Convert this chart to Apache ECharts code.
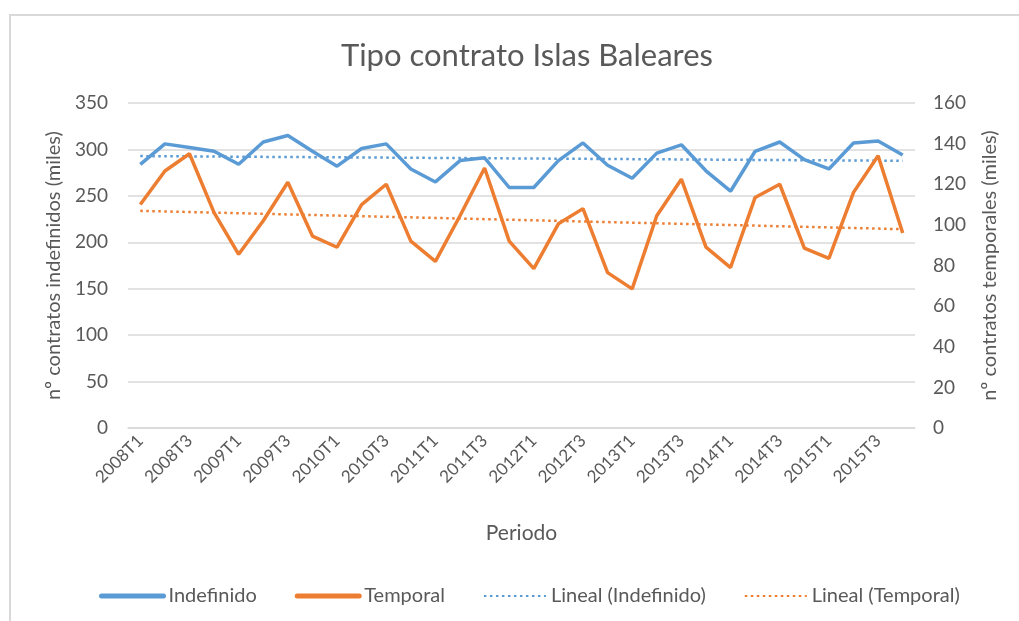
<!DOCTYPE html>
<html>
<head>
<meta charset="utf-8">
<script src="https://cdn.jsdelivr.net/npm/echarts@6/dist/echarts.min.js"></script>
<style>
  html, body { margin: 0; padding: 0; background: #fff; }
</style>
</head>
<body>
<div style="width:1019px;height:621px;" id="contratos_con"></div>
<script>
// trimestres
const periodos = [
    '2008T1','2008T2','2008T3','2008T4','2009T1','2009T2','2009T3','2009T4',
    '2010T1','2010T2','2010T3','2010T4','2011T1','2011T2','2011T3','2011T4',
    '2012T1','2012T2','2012T3','2012T4','2013T1','2013T2','2013T3','2013T4',
    '2014T1','2014T2','2014T3','2014T4','2015T1','2015T2','2015T3','2015T4'
];
// miles de contratos (eje izquierdo)
const indefinido = [
    284, 306, 302, 298, 284, 308, 315, 298,
    282, 301, 306, 279, 265, 288, 291, 259,
    259, 288, 307, 283, 269, 296, 305, 277,
    255, 298, 308, 289, 279, 307, 309, 294
];
// miles de contratos (eje derecho)
const temporal = [
    110, 126.5, 135, 106, 85.5, 102, 121, 94.5,
    89, 110, 120, 92, 82, 104.5, 128, 92,
    78.5, 100.5, 108, 76.5, 68.5, 104.5, 122.5, 89,
    79, 113.5, 120, 88.5, 83.5, 116, 134, 96
];
const ticksIzq = [0, 350, 50];
const ticksDer = [0, 160, 20];

// recta de regresion (linea de tendencia), como hace Excel
function lineal (vals) {
    let n = vals.length, sx = 0, sy = 0, sxx = 0, sxy = 0;
    vals.forEach((v, i) => { sx += i; sy += v; sxx += i * i; sxy += i * v; });
    let b = (n * sxy - sx * sy) / (n * sxx - sx * sx);
    let a = (sy - b * sx) / n;
    return vals.map((v, i) => +(a + b * i).toFixed(2));
}

const gris = '#595959';
const fuente = 'Lato, "Open Sans", sans-serif';
const azul = '#5B9BD5';
const naranja = '#ED7D31';

let chart = echarts.init(document.getElementById('contratos_con'));
const option = {
    backgroundColor: '#fff',
    animation: false,
    textStyle: { fontFamily: fuente, color: gris },
    title: {
        text: 'Tipo contrato Islas Baleares',
        left: 522,
        textAlign: 'center',
        top: 35,
        textStyle: { fontSize: 31, fontWeight: 'normal', color: gris, fontFamily: fuente }
    },
    graphic: [
        { type: 'line', shape: { x1: 9, y1: 15, x2: 1019, y2: 15 }, style: { stroke: '#D9D9D9', lineWidth: 2 } },
        { type: 'line', shape: { x1: 10, y1: 15, x2: 10, y2: 621 }, style: { stroke: '#D9D9D9', lineWidth: 2 } }
    ],
    legend: {
        top: 581,
        left: 94,
        itemWidth: 62,
        itemHeight: 5,
        itemGap: 38,
        itemStyle: { opacity: 0 },
        textStyle: { fontSize: 20, color: gris, fontFamily: fuente },
        data: [
            { name: 'Indefinido', lineStyle: { width: 5, cap: 'round' } },
            { name: 'Temporal', lineStyle: { width: 5, cap: 'round' } },
            { name: 'Lineal (Indefinido)', lineStyle: { width: 2 } },
            { name: 'Lineal (Temporal)', lineStyle: { width: 2 } }
        ]
    },
    grid: {
        left: 128,
        right: 104,
        top: 103,
        bottom: 193
    },
    xAxis: {
        type: 'category',
        data: periodos,
        name: 'Periodo',
        nameLocation: 'middle',
        nameGap: 95,
        nameTextStyle: { fontSize: 21, color: gris },
        axisLine: { lineStyle: { color: '#D9D9D9', width: 1.5 } },
        axisTick: { show: false },
        axisLabel: { interval: 1, rotate: 45, fontSize: 17, color: gris, margin: 10 }
    },
    yAxis: [
        {
            type: 'value',
            min: ticksIzq[0],
            max: ticksIzq[1],
            interval: ticksIzq[2],
            name: 'nº contratos indefinidos (miles)',
            nameLocation: 'middle',
            nameGap: 62,
            nameTextStyle: { fontSize: 20, color: gris },
            axisLabel: { fontSize: 19, color: gris, margin: 20 },
            axisLine: { show: false },
            axisTick: { show: false },
            splitLine: { lineStyle: { color: '#D9D9D9', width: 1.5 } }
        },
        {
            type: 'value',
            min: ticksDer[0],
            max: ticksDer[1],
            interval: ticksDer[2],
            name: 'nº contratos temporales (miles)',
            nameLocation: 'middle',
            nameGap: 65,
            nameRotate: 90,
            nameTextStyle: { fontSize: 20, color: gris },
            axisLabel: { fontSize: 19, color: gris, margin: 18 },
            axisLine: { show: false },
            axisTick: { show: false },
            splitLine: { show: false }
        }
    ],
    series: [
        {
            name: 'Indefinido',
            type: 'line',
            yAxisIndex: 0,
            data: indefinido,
            symbol: 'none',
            itemStyle: { color: azul },
            lineStyle: { color: azul, width: 3.5 },
            z: 4
        },
        {
            name: 'Temporal',
            type: 'line',
            yAxisIndex: 1,
            data: temporal,
            symbol: 'none',
            itemStyle: { color: naranja },
            lineStyle: { color: naranja, width: 3.5 },
            z: 4
        },
        {
            name: 'Lineal (Indefinido)',
            type: 'line',
            yAxisIndex: 0,
            data: lineal(indefinido),
            symbol: 'none',
            itemStyle: { color: azul },
            lineStyle: { color: azul, width: 2.5, type: [2.5, 3.5] },
            z: 3
        },
        {
            name: 'Lineal (Temporal)',
            type: 'line',
            yAxisIndex: 1,
            data: lineal(temporal),
            symbol: 'none',
            itemStyle: { color: naranja },
            lineStyle: { color: naranja, width: 2.5, type: [2.5, 3.5] },
            z: 3
        }
    ]
};
chart.setOption(option);

window.addEventListener('resize', function () {
    chart.resize();
});
</script>
</body>
</html>
